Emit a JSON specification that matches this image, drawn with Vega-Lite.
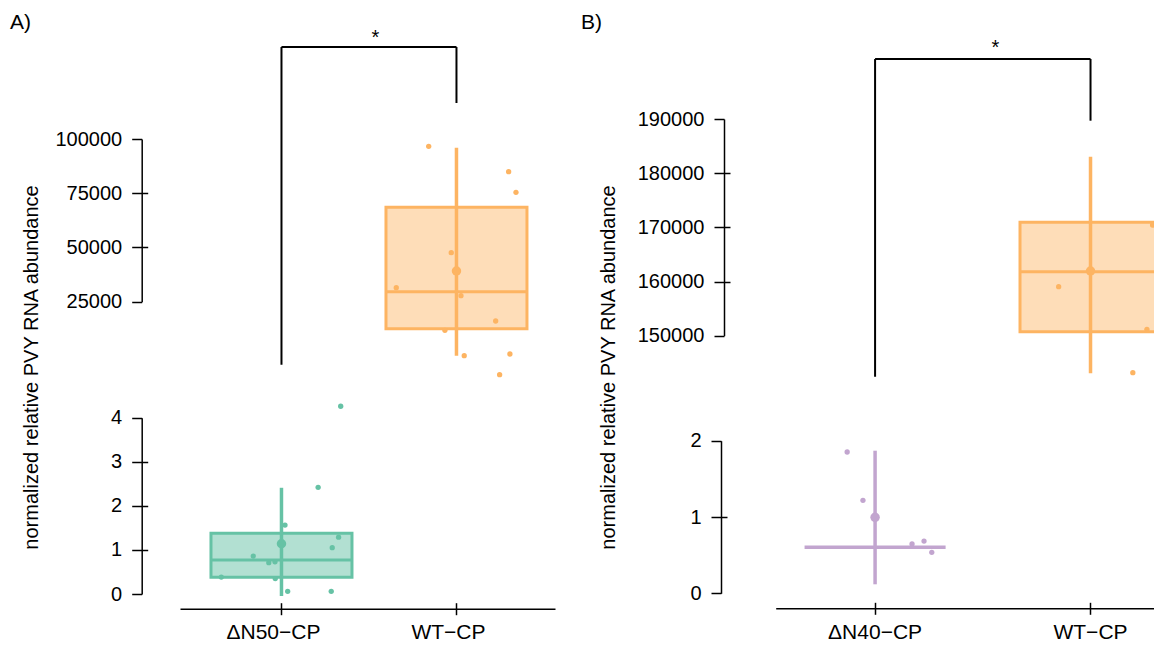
{
  "$schema": "https://vega.github.io/schema/vega-lite/v6.json",
  "width": 1154,
  "height": 648,
  "autosize": {"type": "none"},
  "padding": 0,
  "background": "white",
  "config": {
    "view": {"stroke": null},
    "font": "Liberation Sans",
    "axis": {"domainColor": "#000", "domainWidth": 1.5, "tickColor": "#000", "tickWidth": 1.5, "labelColor": "#000", "labelFont": "Liberation Sans", "grid": false, "labelOverlap": false, "titleFont": "Liberation Sans", "titleFontSize": 20, "titleFontWeight": "normal", "titleColor": "#000"},
    "axisY": {"tickSize": 10, "labelPadding": 10, "labelFontSize": 20},
    "axisX": {"tickSize": 6, "labelPadding": 7, "labelAngle": 0, "labelFontSize": 21}
  },
  "datasets": {
    "obs": [
      {"panel": "A", "group": "ΔN50−CP", "value": 4.26, "jitter": 0.42},
      {"panel": "A", "group": "ΔN50−CP", "value": 2.42, "jitter": 0.26},
      {"panel": "A", "group": "ΔN50−CP", "value": 1.565, "jitter": 0.025},
      {"panel": "A", "group": "ΔN50−CP", "value": 1.29, "jitter": 0.405},
      {"panel": "A", "group": "ΔN50−CP", "value": 1.05, "jitter": 0.36},
      {"panel": "A", "group": "ΔN50−CP", "value": 0.86, "jitter": -0.2},
      {"panel": "A", "group": "ΔN50−CP", "value": 0.71, "jitter": -0.09},
      {"panel": "A", "group": "ΔN50−CP", "value": 0.73, "jitter": -0.046},
      {"panel": "A", "group": "ΔN50−CP", "value": 0.385, "jitter": -0.427},
      {"panel": "A", "group": "ΔN50−CP", "value": 0.35, "jitter": -0.044},
      {"panel": "A", "group": "ΔN50−CP", "value": 0.06, "jitter": 0.044},
      {"panel": "A", "group": "ΔN50−CP", "value": 0.06, "jitter": 0.353},
      {"panel": "A", "group": "WT−CP", "value": 96640, "jitter": -0.197},
      {"panel": "A", "group": "WT−CP", "value": 84930, "jitter": 0.37},
      {"panel": "A", "group": "WT−CP", "value": 75430, "jitter": 0.422},
      {"panel": "A", "group": "WT−CP", "value": 47590, "jitter": -0.037},
      {"panel": "A", "group": "WT−CP", "value": 31450, "jitter": -0.427},
      {"panel": "A", "group": "WT−CP", "value": 27770, "jitter": 0.032},
      {"panel": "A", "group": "WT−CP", "value": 16100, "jitter": 0.278},
      {"panel": "A", "group": "WT−CP", "value": 11810, "jitter": -0.082},
      {"panel": "A", "group": "WT−CP", "value": 110, "jitter": 0.055},
      {"panel": "A", "group": "WT−CP", "value": 890, "jitter": 0.379},
      {"panel": "A", "group": "WT−CP", "value": -8650, "jitter": 0.306},
      {"panel": "B", "group": "ΔN40−CP", "value": 1.852, "jitter": -0.198},
      {"panel": "B", "group": "ΔN40−CP", "value": 1.219, "jitter": -0.086},
      {"panel": "B", "group": "ΔN40−CP", "value": 0.646, "jitter": 0.262},
      {"panel": "B", "group": "ΔN40−CP", "value": 0.685, "jitter": 0.347},
      {"panel": "B", "group": "ΔN40−CP", "value": 0.537, "jitter": 0.402},
      {"panel": "B", "group": "WT−CP", "value": 159040, "jitter": -0.226},
      {"panel": "B", "group": "WT−CP", "value": 151180, "jitter": 0.4},
      {"panel": "B", "group": "WT−CP", "value": 143170, "jitter": 0.3},
      {"panel": "B", "group": "WT−CP", "value": 170430, "jitter": 0.44}
    ],
    "summary": [
      {"panel": "A", "group": "ΔN50−CP", "q1": 0.379, "median": 0.77, "q3": 1.376, "lo": -0.045, "hi": 2.41, "mean": 1.14},
      {"panel": "A", "group": "WT−CP", "q1": 12550, "median": 29610, "q3": 68500, "lo": 110, "hi": 95990, "mean": 39150},
      {"panel": "B", "group": "ΔN40−CP", "q1": 0.603, "median": 0.603, "q3": 0.603, "lo": 0.118, "hi": 1.869, "mean": 0.996},
      {"panel": "B", "group": "WT−CP", "q1": 150740, "median": 161810, "q3": 170930, "lo": 143060, "hi": 183040, "mean": 161940}
    ]
  },
  "layer": [
    {
      "layer": [
        {
          "data": {"name": "summary"},
          "transform": [{"filter": "datum.panel === 'A' && datum.group === 'WT−CP'"}],
          "mark": {"type": "bar", "fill": "#fdb462", "fillOpacity": 0.45, "stroke": "#fdb462", "strokeWidth": 3},
          "encoding": {
            "x": {"field": "group", "type": "nominal", "title": null, "axis": null, "scale": {"type": "band", "domain": ["ΔN50−CP", "WT−CP"], "range": [180, 555], "paddingInner": 0.1943, "paddingOuter": 0.1686, "align": 0.525}},
            "y": {"field": "q1", "type": "quantitative", "title": "normalized relative PVY RNA abundance", "scale": {"domain": [25000, 100000], "range": [301.7, 139], "nice": false, "zero": false}, "axis": {"orient": "left", "offset": -141.7, "values": [25000, 50000, 75000, 100000], "format": "d", "titleX": -104.7, "titleY": 367, "titleBaseline": "alphabetic", "titleAngle": 270}},
            "y2": {"field": "q3"}
          }
        },
        {
          "data": {"name": "summary"},
          "transform": [{"filter": "datum.panel === 'A' && datum.group === 'WT−CP'"}],
          "mark": {"type": "bar", "fillOpacity": 0, "stroke": "#fdb462", "strokeWidth": 3},
          "encoding": {
            "x": {"field": "group", "type": "nominal", "title": null},
            "y": {"field": "median", "type": "quantitative", "title": "normalized relative PVY RNA abundance"},
            "y2": {"field": "median"}
          }
        },
        {
          "data": {"name": "summary"},
          "transform": [{"filter": "datum.panel === 'A' && datum.group === 'WT−CP'"}],
          "mark": {"type": "rule", "stroke": "#fdb462", "strokeWidth": 3.5},
          "encoding": {
            "x": {"field": "group", "type": "nominal", "title": null},
            "y": {"field": "lo", "type": "quantitative", "title": "normalized relative PVY RNA abundance"},
            "y2": {"field": "hi"}
          }
        },
        {
          "data": {"name": "summary"},
          "transform": [{"filter": "datum.panel === 'A' && datum.group === 'WT−CP'"}],
          "mark": {"type": "point", "filled": true, "fill": "#fdb462", "size": 90, "opacity": 1},
          "encoding": {
            "x": {"field": "group", "type": "nominal", "title": null},
            "y": {"field": "mean", "type": "quantitative", "title": "normalized relative PVY RNA abundance"}
          }
        }
      ]
    },
    {
      "data": {"name": "obs"},
      "transform": [{"filter": "datum.panel === 'A' && datum.group === 'WT−CP'"}],
      "mark": {"type": "point", "filled": true, "fill": "#fdb462", "size": 28, "opacity": 1},
      "encoding": {
        "x": {"field": "group", "type": "nominal", "title": null, "axis": null, "scale": {"type": "band", "domain": ["ΔN50−CP", "WT−CP"], "range": [180, 555], "paddingInner": 0.1943, "paddingOuter": 0.1686, "align": 0.525}},
        "xOffset": {"field": "jitter", "type": "quantitative", "scale": {"domain": [-0.5, 0.5]}},
        "y": {"field": "value", "type": "quantitative", "title": null, "scale": {"domain": [25000, 100000], "range": [301.7, 139], "nice": false, "zero": false}, "axis": {"orient": "right", "offset": -1012.3, "values": [50000, 75000], "labels": false, "domain": false, "tickSize": 6}}
      }
    },
    {
      "layer": [
        {
          "data": {"name": "summary"},
          "transform": [{"filter": "datum.panel === 'A' && datum.group === 'ΔN50−CP'"}],
          "mark": {"type": "bar", "fill": "#66c2a5", "fillOpacity": 0.5, "stroke": "#66c2a5", "strokeWidth": 3},
          "encoding": {
            "x": {"field": "group", "type": "nominal", "title": null, "scale": {"type": "band", "domain": ["ΔN50−CP", "WT−CP"], "range": [180, 555], "paddingInner": 0.1943, "paddingOuter": 0.1686, "align": 0.525}, "axis": {"orient": "bottom", "offset": -39.3, "labelOffset": -8}},
            "y": {"field": "q1", "type": "quantitative", "title": null, "scale": {"domain": [0, 4], "range": [594, 417.7], "nice": false, "zero": false}, "axis": {"orient": "left", "offset": -141.7, "values": [0, 1, 2, 3, 4], "format": "d"}},
            "y2": {"field": "q3"}
          }
        },
        {
          "data": {"name": "summary"},
          "transform": [{"filter": "datum.panel === 'A' && datum.group === 'ΔN50−CP'"}],
          "mark": {"type": "bar", "fillOpacity": 0, "stroke": "#66c2a5", "strokeWidth": 3},
          "encoding": {
            "x": {"field": "group", "type": "nominal", "title": null},
            "y": {"field": "median", "type": "quantitative", "title": null},
            "y2": {"field": "median"}
          }
        },
        {
          "data": {"name": "summary"},
          "transform": [{"filter": "datum.panel === 'A' && datum.group === 'ΔN50−CP'"}],
          "mark": {"type": "rule", "stroke": "#66c2a5", "strokeWidth": 3.5},
          "encoding": {
            "x": {"field": "group", "type": "nominal", "title": null},
            "y": {"field": "lo", "type": "quantitative", "title": null},
            "y2": {"field": "hi"}
          }
        },
        {
          "data": {"name": "summary"},
          "transform": [{"filter": "datum.panel === 'A' && datum.group === 'ΔN50−CP'"}],
          "mark": {"type": "point", "filled": true, "fill": "#66c2a5", "size": 90, "opacity": 1},
          "encoding": {
            "x": {"field": "group", "type": "nominal", "title": null},
            "y": {"field": "mean", "type": "quantitative", "title": null}
          }
        },
        {
          "data": {"values": [{}]},
          "mark": {"type": "rule", "stroke": "#000", "strokeWidth": 2},
          "encoding": {"x": {"datum": "ΔN50−CP", "title": null}, "y": {"datum": 5.2, "title": null}, "y2": {"datum": 12.41}}
        },
        {
          "data": {"values": [{}]},
          "mark": {"type": "rule", "stroke": "#000", "strokeWidth": 2},
          "encoding": {"x": {"datum": "WT−CP", "title": null}, "y": {"datum": 11.14, "title": null}, "y2": {"datum": 12.41}}
        },
        {
          "data": {"values": [{}]},
          "mark": {"type": "rule", "stroke": "#000", "strokeWidth": 2},
          "encoding": {"x": {"datum": "ΔN50−CP", "title": null}, "x2": {"datum": "WT−CP"}, "y": {"datum": 12.41, "title": null}}
        },
        {
          "data": {"values": [{}]},
          "mark": {"type": "text", "text": "*", "fontSize": 20, "align": "center", "baseline": "alphabetic", "dx": 94, "color": "#000"},
          "encoding": {"x": {"datum": "ΔN50−CP", "title": null}, "y": {"datum": 12.48, "title": null}}
        },
        {
          "data": {"values": [{}]},
          "mark": {"type": "text", "text": "A)", "fontSize": 21, "align": "left", "baseline": "middle", "dx": -271.5, "color": "#000"},
          "encoding": {"x": {"datum": "ΔN50−CP", "title": null}, "y": {"datum": 12.95, "title": null}}
        }
      ]
    },
    {
      "data": {"name": "obs"},
      "transform": [{"filter": "datum.panel === 'A' && datum.group === 'ΔN50−CP'"}],
      "mark": {"type": "point", "filled": true, "fill": "#66c2a5", "size": 28, "opacity": 1},
      "encoding": {
        "x": {"field": "group", "type": "nominal", "title": null, "scale": {"type": "band", "domain": ["ΔN50−CP", "WT−CP"], "range": [180, 555], "paddingInner": 0.1943, "paddingOuter": 0.1686, "align": 0.525}, "axis": {"orient": "top", "offset": -608.7, "labels": false, "domain": false, "tickSize": 6}},
        "xOffset": {"field": "jitter", "type": "quantitative", "scale": {"domain": [-0.5, 0.5]}},
        "y": {"field": "value", "type": "quantitative", "title": null, "scale": {"domain": [0, 4], "range": [594, 417.7], "nice": false, "zero": false}, "axis": {"orient": "right", "offset": -1012.3, "values": [1, 2, 3], "labels": false, "domain": false, "tickSize": 6}}
      }
    },
    {
      "layer": [
        {
          "data": {"name": "summary"},
          "transform": [{"filter": "datum.panel === 'B' && datum.group === 'WT−CP'"}],
          "mark": {"type": "bar", "fill": "#fdb462", "fillOpacity": 0.45, "stroke": "#fdb462", "strokeWidth": 3},
          "encoding": {
            "x": {"field": "group", "type": "nominal", "title": null, "axis": null, "scale": {"type": "band", "domain": ["ΔN40−CP", "WT−CP"], "range": [775.7, 1189.9], "paddingInner": 0.3454, "paddingOuter": 0.134, "align": 0.5}},
            "y": {"field": "q1", "type": "quantitative", "title": "normalized relative PVY RNA abundance", "scale": {"domain": [150000, 190000], "range": [335.7, 119], "nice": false, "zero": false}, "axis": {"orient": "left", "offset": -724, "values": [150000, 160000, 170000, 180000, 190000], "format": "d", "titleX": -110, "titleY": 367, "titleBaseline": "alphabetic", "titleAngle": 270}},
            "y2": {"field": "q3"}
          }
        },
        {
          "data": {"name": "summary"},
          "transform": [{"filter": "datum.panel === 'B' && datum.group === 'WT−CP'"}],
          "mark": {"type": "bar", "fillOpacity": 0, "stroke": "#fdb462", "strokeWidth": 3},
          "encoding": {
            "x": {"field": "group", "type": "nominal", "title": null},
            "y": {"field": "median", "type": "quantitative", "title": "normalized relative PVY RNA abundance"},
            "y2": {"field": "median"}
          }
        },
        {
          "data": {"name": "summary"},
          "transform": [{"filter": "datum.panel === 'B' && datum.group === 'WT−CP'"}],
          "mark": {"type": "rule", "stroke": "#fdb462", "strokeWidth": 3.5},
          "encoding": {
            "x": {"field": "group", "type": "nominal", "title": null},
            "y": {"field": "lo", "type": "quantitative", "title": "normalized relative PVY RNA abundance"},
            "y2": {"field": "hi"}
          }
        },
        {
          "data": {"name": "summary"},
          "transform": [{"filter": "datum.panel === 'B' && datum.group === 'WT−CP'"}],
          "mark": {"type": "point", "filled": true, "fill": "#fdb462", "size": 90, "opacity": 1},
          "encoding": {
            "x": {"field": "group", "type": "nominal", "title": null},
            "y": {"field": "mean", "type": "quantitative", "title": "normalized relative PVY RNA abundance"}
          }
        }
      ]
    },
    {
      "data": {"name": "obs"},
      "transform": [{"filter": "datum.panel === 'B' && datum.group === 'WT−CP'"}],
      "mark": {"type": "point", "filled": true, "fill": "#fdb462", "size": 28, "opacity": 1},
      "encoding": {
        "x": {"field": "group", "type": "nominal", "title": null, "axis": null, "scale": {"type": "band", "domain": ["ΔN40−CP", "WT−CP"], "range": [775.7, 1189.9], "paddingInner": 0.3454, "paddingOuter": 0.134, "align": 0.5}},
        "xOffset": {"field": "jitter", "type": "quantitative", "scale": {"domain": [-0.5, 0.5]}},
        "y": {"field": "value", "type": "quantitative", "title": null, "scale": {"domain": [150000, 190000], "range": [335.7, 119], "nice": false, "zero": false}, "axis": {"orient": "right", "offset": -430, "values": [160000, 170000, 180000], "labels": false, "domain": false, "tickSize": 6}}
      }
    },
    {
      "layer": [
        {
          "data": {"name": "summary"},
          "transform": [{"filter": "datum.panel === 'B' && datum.group === 'ΔN40−CP'"}],
          "mark": {"type": "bar", "fill": "#c2a5cf", "fillOpacity": 0.5, "stroke": "#c2a5cf", "strokeWidth": 3.5},
          "encoding": {
            "x": {"field": "group", "type": "nominal", "title": null, "scale": {"type": "band", "domain": ["ΔN40−CP", "WT−CP"], "range": [775.7, 1189.9], "paddingInner": 0.3454, "paddingOuter": 0.134, "align": 0.5}, "axis": {"orient": "bottom", "offset": -39.7}},
            "y": {"field": "q1", "type": "quantitative", "title": null, "scale": {"domain": [0, 2], "range": [593.3, 440.7], "nice": false, "zero": false}, "axis": {"orient": "left", "offset": -721, "values": [0, 1, 2], "tickCount": 3, "labelOverlap": false, "format": ".0f"}},
            "y2": {"field": "q3"}
          }
        },
        {
          "data": {"name": "summary"},
          "transform": [{"filter": "datum.panel === 'B' && datum.group === 'ΔN40−CP'"}],
          "mark": {"type": "rule", "stroke": "#c2a5cf", "strokeWidth": 3.5},
          "encoding": {
            "x": {"field": "group", "type": "nominal", "title": null},
            "y": {"field": "lo", "type": "quantitative", "title": null},
            "y2": {"field": "hi"}
          }
        },
        {
          "data": {"name": "summary"},
          "transform": [{"filter": "datum.panel === 'B' && datum.group === 'ΔN40−CP'"}],
          "mark": {"type": "point", "filled": true, "fill": "#c2a5cf", "size": 90, "opacity": 1},
          "encoding": {
            "x": {"field": "group", "type": "nominal", "title": null},
            "y": {"field": "mean", "type": "quantitative", "title": null}
          }
        },
        {
          "data": {"values": [{}]},
          "mark": {"type": "rule", "stroke": "#000", "strokeWidth": 2},
          "encoding": {"x": {"datum": "ΔN40−CP", "title": null}, "y": {"datum": 2.839, "title": null}, "y2": {"datum": 7.003}}
        },
        {
          "data": {"values": [{}]},
          "mark": {"type": "rule", "stroke": "#000", "strokeWidth": 2},
          "encoding": {"x": {"datum": "WT−CP", "title": null}, "y": {"datum": 6.194, "title": null}, "y2": {"datum": 7.003}}
        },
        {
          "data": {"values": [{}]},
          "mark": {"type": "rule", "stroke": "#000", "strokeWidth": 2},
          "encoding": {"x": {"datum": "ΔN40−CP", "title": null}, "x2": {"datum": "WT−CP"}, "y": {"datum": 7.003, "title": null}}
        },
        {
          "data": {"values": [{}]},
          "mark": {"type": "text", "text": "*", "fontSize": 20, "align": "center", "baseline": "alphabetic", "dx": 120.4, "color": "#000"},
          "encoding": {"x": {"datum": "ΔN40−CP", "title": null}, "y": {"datum": 7.063, "title": null}}
        },
        {
          "data": {"values": [{}]},
          "mark": {"type": "text", "text": "B)", "fontSize": 21, "align": "left", "baseline": "middle", "dx": -294, "color": "#000"},
          "encoding": {"x": {"datum": "ΔN40−CP", "title": null}, "y": {"datum": 7.48, "title": null}}
        }
      ]
    },
    {
      "data": {"name": "obs"},
      "transform": [{"filter": "datum.panel === 'B' && datum.group === 'ΔN40−CP'"}],
      "mark": {"type": "point", "filled": true, "fill": "#c2a5cf", "size": 28, "opacity": 1},
      "encoding": {
        "x": {"field": "group", "type": "nominal", "title": null, "scale": {"type": "band", "domain": ["ΔN40−CP", "WT−CP"], "range": [775.7, 1189.9], "paddingInner": 0.3454, "paddingOuter": 0.134, "align": 0.5}, "axis": {"orient": "top", "offset": -608.3, "labels": false, "domain": false, "tickSize": 6}},
        "xOffset": {"field": "jitter", "type": "quantitative", "scale": {"domain": [-0.5, 0.5]}},
        "y": {"field": "value", "type": "quantitative", "title": null, "scale": {"domain": [0, 2], "range": [593.3, 440.7], "nice": false, "zero": false}, "axis": {"orient": "right", "offset": -433, "values": [1], "labels": false, "domain": false, "tickSize": 6}}
      }
    }
  ],
  "resolve": {"scale": {"x": "independent", "y": "independent", "xOffset": "independent"}, "axis": {"x": "independent", "y": "independent"}}
}
